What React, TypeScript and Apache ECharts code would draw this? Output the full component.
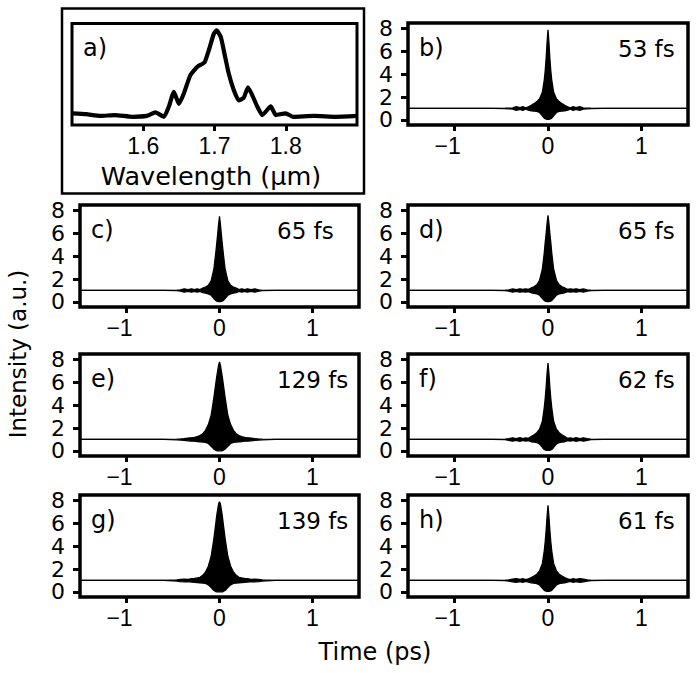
import React, { useEffect, useRef } from "react";
import * as echarts from "echarts";

// ---------- data ----------
const WAVELENGTH = [1.5, 1.52, 1.54, 1.56, 1.585, 1.605, 1.617, 1.629, 1.636, 1.643, 1.65, 1.657, 1.666, 1.676, 1.686, 1.692, 1.699, 1.703, 1.709, 1.714, 1.72, 1.727, 1.734, 1.741, 1.747, 1.76, 1.767, 1.779, 1.786, 1.8, 1.81, 1.84, 1.87, 1.9];
const SPECTRUM = [0.04, 0.03, 0.01, 0.02, 0.0, 0.01, 0.05, 0.0, 0.12, 0.29, 0.15, 0.27, 0.48, 0.58, 0.63, 0.77, 0.96, 1.0, 0.92, 0.73, 0.5, 0.31, 0.19, 0.22, 0.34, 0.12, 0.02, 0.12, 0.02, 0.04, 0.0, 0.01, 0.0, 0.01];

const TIME = [-1.5, -1.0, -0.6, -0.46, -0.42, -0.38, -0.34, -0.3, -0.27, -0.24, -0.21, -0.18, -0.15, -0.12, -0.09, -0.06, -0.04, -0.03, -0.02, -0.01, 0, 0.01, 0.02, 0.03, 0.04, 0.06, 0.09, 0.12, 0.15, 0.18, 0.21, 0.24, 0.27, 0.3, 0.34, 0.38, 0.42, 0.46, 0.6, 1.0, 1.5];

const B_UPPER = [1.0, 1.0, 1.0, 1.02, 1.03, 1.05, 1.16, 1.08, 1.16, 1.06, 1.15, 1.28, 1.42, 1.6, 1.85, 2.45, 3.5, 4.3, 5.4, 6.8, 7.9, 6.8, 5.4, 4.3, 3.5, 2.45, 1.85, 1.6, 1.42, 1.28, 1.15, 1.06, 1.16, 1.08, 1.16, 1.05, 1.03, 1.02, 1.0, 1.0, 1.0];
const B_LOWER = [1.0, 1.0, 1.0, 0.98, 0.97, 0.95, 0.84, 0.92, 0.84, 0.94, 0.86, 0.8, 0.78, 0.75, 0.65, 0.35, 0.15, 0.1, 0.07, 0.05, 0.05, 0.05, 0.07, 0.1, 0.15, 0.35, 0.65, 0.75, 0.78, 0.8, 0.86, 0.94, 0.84, 0.92, 0.84, 0.95, 0.97, 0.98, 1.0, 1.0, 1.0];

const C_UPPER = [1.0, 1.0, 1.0, 1.02, 1.06, 1.15, 1.08, 1.15, 1.08, 1.15, 1.08, 1.2, 1.3, 1.45, 1.85, 2.9, 4.3, 5.1, 5.9, 6.8, 7.5, 6.8, 5.9, 5.1, 4.3, 2.9, 1.85, 1.45, 1.3, 1.2, 1.08, 1.15, 1.08, 1.15, 1.08, 1.15, 1.06, 1.02, 1.0, 1.0, 1.0];
const C_LOWER = [1.0, 1.0, 1.0, 0.98, 0.94, 0.85, 0.92, 0.85, 0.92, 0.85, 0.92, 0.82, 0.76, 0.7, 0.58, 0.3, 0.12, 0.07, 0.04, 0.03, 0.03, 0.03, 0.04, 0.07, 0.12, 0.3, 0.58, 0.7, 0.76, 0.82, 0.92, 0.85, 0.92, 0.85, 0.92, 0.85, 0.94, 0.98, 1.0, 1.0, 1.0];

const D_UPPER = [1.0, 1.0, 1.0, 1.02, 1.06, 1.14, 1.08, 1.15, 1.1, 1.15, 1.1, 1.22, 1.32, 1.5, 1.9, 2.9, 4.3, 5.2, 6.0, 6.9, 7.6, 6.9, 6.0, 5.2, 4.3, 2.9, 1.9, 1.5, 1.32, 1.22, 1.1, 1.15, 1.1, 1.15, 1.08, 1.14, 1.06, 1.02, 1.0, 1.0, 1.0];
const D_LOWER = [1.0, 1.0, 1.0, 0.98, 0.94, 0.86, 0.92, 0.85, 0.9, 0.85, 0.9, 0.8, 0.75, 0.7, 0.58, 0.3, 0.12, 0.07, 0.04, 0.03, 0.03, 0.03, 0.04, 0.07, 0.12, 0.3, 0.58, 0.7, 0.75, 0.8, 0.9, 0.85, 0.9, 0.85, 0.92, 0.86, 0.94, 0.98, 1.0, 1.0, 1.0];

const E_UPPER = [1.0, 1.0, 1.0, 1.03, 1.05, 1.08, 1.12, 1.15, 1.18, 1.25, 1.35, 1.5, 1.8, 2.3, 3.1, 4.7, 5.9, 6.5, 7.0, 7.5, 7.8, 7.5, 7.0, 6.5, 5.9, 4.7, 3.1, 2.3, 1.8, 1.5, 1.35, 1.25, 1.18, 1.15, 1.12, 1.08, 1.05, 1.03, 1.0, 1.0, 1.0];
const E_LOWER = [1.0, 1.0, 1.0, 0.97, 0.95, 0.92, 0.88, 0.85, 0.85, 0.82, 0.8, 0.78, 0.75, 0.65, 0.4, 0.15, 0.05, 0.02, 0.0, 0.0, 0.0, 0.0, 0.0, 0.02, 0.05, 0.15, 0.4, 0.65, 0.75, 0.78, 0.8, 0.82, 0.85, 0.85, 0.88, 0.92, 0.95, 0.97, 1.0, 1.0, 1.0];

const F_UPPER = [1.0, 1.0, 1.0, 1.02, 1.08, 1.15, 1.08, 1.16, 1.08, 1.15, 1.1, 1.25, 1.4, 1.6, 1.9, 2.6, 3.8, 4.6, 5.6, 6.8, 7.7, 6.8, 5.6, 4.6, 3.8, 2.6, 1.9, 1.6, 1.4, 1.25, 1.1, 1.15, 1.08, 1.16, 1.08, 1.15, 1.08, 1.02, 1.0, 1.0, 1.0];
const F_LOWER = [1.0, 1.0, 1.0, 0.98, 0.92, 0.85, 0.92, 0.84, 0.92, 0.85, 0.9, 0.8, 0.76, 0.72, 0.6, 0.3, 0.12, 0.08, 0.05, 0.04, 0.04, 0.04, 0.05, 0.08, 0.12, 0.3, 0.6, 0.72, 0.76, 0.8, 0.9, 0.85, 0.92, 0.84, 0.92, 0.85, 0.92, 0.98, 1.0, 1.0, 1.0];

const G_UPPER = [1.0, 1.0, 1.0, 1.05, 1.1, 1.12, 1.1, 1.15, 1.18, 1.22, 1.28, 1.45, 1.75, 2.25, 3.1, 4.7, 6.0, 6.7, 7.2, 7.7, 7.9, 7.7, 7.2, 6.7, 6.0, 4.7, 3.1, 2.25, 1.75, 1.45, 1.28, 1.22, 1.18, 1.15, 1.1, 1.12, 1.1, 1.05, 1.0, 1.0, 1.0];
const G_LOWER = [1.0, 1.0, 1.0, 0.95, 0.9, 0.88, 0.9, 0.86, 0.84, 0.82, 0.8, 0.78, 0.75, 0.62, 0.38, 0.12, 0.03, 0.0, 0.0, 0.0, 0.0, 0.0, 0.0, 0.0, 0.03, 0.12, 0.38, 0.62, 0.75, 0.78, 0.8, 0.82, 0.84, 0.86, 0.9, 0.88, 0.9, 0.95, 1.0, 1.0, 1.0];

const H_UPPER = [1.0, 1.0, 1.0, 1.02, 1.06, 1.12, 1.16, 1.1, 1.16, 1.08, 1.15, 1.25, 1.38, 1.55, 1.85, 2.5, 3.6, 4.4, 5.4, 6.6, 7.6, 6.6, 5.4, 4.4, 3.6, 2.5, 1.85, 1.55, 1.38, 1.25, 1.15, 1.08, 1.16, 1.1, 1.16, 1.12, 1.06, 1.02, 1.0, 1.0, 1.0];
const H_LOWER = [1.0, 1.0, 1.0, 0.98, 0.94, 0.88, 0.84, 0.9, 0.84, 0.92, 0.86, 0.8, 0.76, 0.72, 0.6, 0.32, 0.14, 0.09, 0.06, 0.05, 0.05, 0.05, 0.06, 0.09, 0.14, 0.32, 0.6, 0.72, 0.76, 0.8, 0.86, 0.92, 0.84, 0.9, 0.84, 0.88, 0.94, 0.98, 1.0, 1.0, 1.0];

const PANEL_LABELS = ["b)", "c)", "d)", "e)", "f)", "g)", "h)"];
const DURATIONS = ["53 fs", "65 fs", "65 fs", "129 fs", "62 fs", "139 fs", "61 fs"];
const UPPERS = [B_UPPER, C_UPPER, D_UPPER, E_UPPER, F_UPPER, G_UPPER, H_UPPER];
const LOWERS = [B_LOWER, C_LOWER, D_LOWER, E_LOWER, F_LOWER, G_LOWER, H_LOWER];

const TIME_TICKS = [-1, 0, 1];
const INTENSITY_TICKS = [0, 2, 4, 6, 8];
const WAVELENGTH_TICKS = [1.6, 1.7, 1.8];

// ---------- layout ----------
const FONT_LABEL = "'DejaVu Sans', 'Liberation Sans', sans-serif";
const FONT_TICK = "'Liberation Sans', Arial, sans-serif";
const LEFT_X = 80;
const LEFT_W = 279;
const RIGHT_X = 408;
const RIGHT_W = 280;
const ROW_TOPS = [23, 205, 354, 495];
const PANEL_H = 102;
// panel b..h positions: [column (0 left/1 right), row]
const PANEL_POS = [
  [1, 0],
  [0, 1],
  [1, 1],
  [0, 2],
  [1, 2],
  [0, 3],
  [1, 3],
];

export default function App() {
  const ref = useRef<HTMLDivElement>(null);

  useEffect(() => {
    if (!ref.current) return;
    const chart = echarts.init(ref.current, null, { renderer: "svg" });

    const timeFmt = (v: number) => (v < 0 ? `{neg|\u2212${Math.abs(v)}}` : String(v));

    const grids: any[] = [];
    const xAxes: any[] = [];
    const yAxes: any[] = [];
    const series: any[] = [];
    const graphics: any[] = [];

    // panel a (spectrum)
    grids.push({
      left: 72,
      top: 23.5,
      width: 285,
      height: 101.5,
      show: true,
      borderColor: "#000",
      borderWidth: 3,
      backgroundColor: "rgba(0,0,0,0)",
      z: 10,
    });
    xAxes.push({
      gridIndex: 0,
      type: "value",
      min: 1.5,
      max: 1.9,
      axisLine: { show: false, onZero: false },
      splitLine: { show: false },
      axisTick: { show: true, customValues: WAVELENGTH_TICKS, length: 6, lineStyle: { color: "#000", width: 3 } },
      axisLabel: {
        customValues: WAVELENGTH_TICKS,
        formatter: (v: number) => v.toFixed(1),
        fontSize: 23,
        fontFamily: FONT_TICK,
        color: "#000",
        margin: 9,
      },
    });
    yAxes.push({
      gridIndex: 0,
      type: "value",
      min: -0.095,
      max: 1.08,
      show: false,
      axisLine: { onZero: false },
      splitLine: { show: false },
    });
    series.push({
      type: "line",
      xAxisIndex: 0,
      yAxisIndex: 0,
      data: WAVELENGTH.map((w, i) => [w, SPECTRUM[i]]),
      showSymbol: false,
      smooth: 0.15,
      lineStyle: { color: "#000", width: 4.2 },
    });

    PANEL_POS.forEach(([col, row], p) => {
      const gi = p + 1;
      const left = col === 0 ? LEFT_X : RIGHT_X;
      const width = col === 0 ? LEFT_W : RIGHT_W;
      const top = ROW_TOPS[row];
      grids.push({
        left,
        top,
        width,
        height: PANEL_H,
        show: true,
        borderColor: "#000",
        borderWidth: 3.5,
        backgroundColor: "rgba(0,0,0,0)",
        z: 10,
      });
      xAxes.push({
        gridIndex: gi,
        type: "value",
        min: -1.5,
        max: 1.5,
        axisLine: { show: false, onZero: false },
        splitLine: { show: false },
        axisTick: { show: true, customValues: TIME_TICKS, length: 6, lineStyle: { color: "#000", width: 3 } },
        axisLabel: {
          customValues: TIME_TICKS,
          formatter: timeFmt,
          fontSize: 23,
          fontFamily: FONT_TICK,
          color: "#000",
          margin: 9,
          rich: {
            neg: { fontSize: 23, fontFamily: FONT_TICK, color: "#000", padding: [0, 14, 0, 0] },
          },
        },
      });
      yAxes.push({
        gridIndex: gi,
        type: "value",
        min: -0.45,
        max: 8.5,
        axisLine: { show: false, onZero: false },
        splitLine: { show: false },
        axisTick: { show: true, customValues: INTENSITY_TICKS, length: 7, lineStyle: { color: "#000", width: 3 } },
        axisLabel: {
          customValues: INTENSITY_TICKS,
          fontSize: 22,
          fontFamily: FONT_LABEL,
          color: "#000",
          margin: 15,
        },
      });
      series.push({
        type: "line",
        xAxisIndex: gi,
        yAxisIndex: gi,
        data: TIME.map((t, i) => [t, UPPERS[p][i]]),
        showSymbol: false,
        lineStyle: { color: "#000", width: 1.3 },
        areaStyle: { color: "#000", opacity: 1, origin: "start" },
        z: 2,
      });
      series.push({
        type: "line",
        xAxisIndex: gi,
        yAxisIndex: gi,
        data: TIME.map((t, i) => [t, LOWERS[p][i]]),
        showSymbol: false,
        lineStyle: { color: "#000", width: 1.3 },
        areaStyle: { color: "#fff", opacity: 1, origin: "start" },
        z: 3,
      });
      graphics.push({
        type: "text",
        x: left + 11,
        y: top + 25,
        z: 20,
        style: { text: PANEL_LABELS[p], font: `24px ${FONT_LABEL}`, fill: "#000", align: "left", verticalAlign: "middle" },
      });
      graphics.push({
        type: "text",
        x: col === 0 ? 277 : 618,
        y: top + 26,
        z: 20,
        style: { text: DURATIONS[p], font: `23px ${FONT_LABEL}`, fill: "#000", align: "left", verticalAlign: "middle" },
      });
    });

    graphics.push(
      {
        type: "rect",
        shape: { x: 62, y: 8.5, width: 302, height: 185 },
        style: { fill: "none", stroke: "#000", lineWidth: 2.5 },
        z: 20,
      },
      {
        type: "text",
        x: 83,
        y: 48,
        z: 20,
        style: { text: "a)", font: `24px ${FONT_LABEL}`, fill: "#000", align: "left", verticalAlign: "middle" },
      },
      {
        type: "text",
        x: 211,
        y: 176,
        z: 20,
        style: { text: "Wavelength (\u03bcm)", font: `25.5px ${FONT_LABEL}`, fill: "#000", align: "center", verticalAlign: "middle" },
      },
      {
        type: "text",
        x: 18,
        y: 354,
        rotation: Math.PI / 2,
        z: 20,
        style: { text: "Intensity (a.u.)", font: `23px ${FONT_LABEL}`, fill: "#000", align: "center", verticalAlign: "middle" },
      },
      {
        type: "text",
        x: 375,
        y: 652,
        z: 20,
        style: { text: "Time (ps)", font: `24px ${FONT_LABEL}`, fill: "#000", align: "center", verticalAlign: "middle" },
      }
    );

    chart.setOption({
      animation: false,
      backgroundColor: "#fff",
      grid: grids,
      xAxis: xAxes,
      yAxis: yAxes,
      series,
      graphic: graphics,
    });

    return () => chart.dispose();
  }, []);

  return (
    <div style={{ position: "absolute", left: 0, top: 0 }}>
      <div ref={ref} style={{ width: 698, height: 673 }} />
    </div>
  );
}
